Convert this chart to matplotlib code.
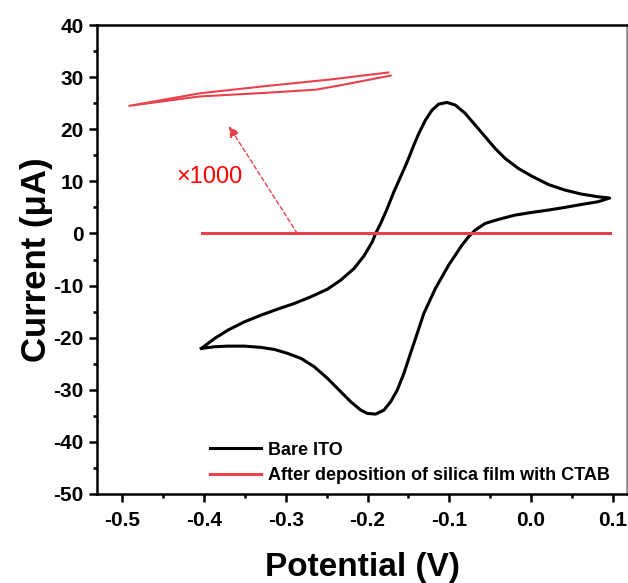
import matplotlib
matplotlib.use("Agg")
import matplotlib.pyplot as plt

# Bare ITO, cyclic voltammogram (forward scan then reverse scan)
bare_v = [-0.4033, -0.3870, -0.3708, -0.3505, -0.3302, -0.3098, -0.2895, -0.2692,
          -0.2489, -0.2327, -0.2164, -0.2042, -0.1941, -0.1900, -0.1839, -0.1758,
          -0.1677, -0.1595, -0.1514, -0.1433, -0.1372, -0.1291, -0.1210, -0.1129,
          -0.1027, -0.0925, -0.0804, -0.0682, -0.0560, -0.0438, -0.0316, -0.0154,
          0.0009, 0.0212, 0.0415, 0.0618, 0.0821, 0.0963,
          0.0821, 0.0618, 0.0415, 0.0212, 0.0009, -0.0194, -0.0397, -0.0560,
          -0.0682, -0.0763, -0.0844, -0.0925, -0.1007, -0.1088, -0.1169, -0.1311,
          -0.1392, -0.1474, -0.1555, -0.1636, -0.1717, -0.1799, -0.1900, -0.2002,
          -0.2083, -0.2205, -0.2327, -0.2489, -0.2652, -0.2814, -0.2977, -0.3139,
          -0.3302, -0.3505, -0.3708, -0.3870, -0.4033]
bare_i = [-22.06, -20.14, -18.55, -16.95, -15.67, -14.51, -13.43, -12.15,
          -10.68, -8.95, -6.71, -4.28, -1.59, 0.01, 1.93, 4.81,
          8.01, 10.89, 13.76, 16.96, 19.20, 21.76, 23.68, 24.83,
          25.15, 24.64, 23.04, 20.80, 18.56, 16.32, 14.40, 12.48,
          11.01, 9.41, 8.33, 7.56, 7.05, 6.80,
          6.09, 5.57, 5.00, 4.49, 4.04, 3.53, 2.70, 1.93,
          0.65, -0.63, -2.23, -4.15, -6.07, -8.31, -10.55, -15.35,
          -19.19, -23.02, -26.86, -30.06, -32.30, -33.90, -34.67, -34.54,
          -33.90, -32.30, -30.38, -27.82, -25.58, -23.98, -23.02, -22.26,
          -21.87, -21.62, -21.62, -21.74, -22.06]

# silica film with CTAB (nA level, flat on this scale)
film_v = [-0.403, -0.20, 0.097]
film_i = [0.0, 0.0, 0.0]

# same trace magnified x1000, drawn as an inset curve
mag_v = [-0.1746, -0.2428, -0.3240, -0.4053, -0.4915,
         -0.4053, -0.3240, -0.2631, -0.2347, -0.1716]
mag_i = [30.9, 29.6, 28.3, 26.9, 24.5,
         26.3, 27.0, 27.6, 28.4, 30.3]

xticks = [-0.5, -0.4, -0.3, -0.2, -0.1, 0.0, 0.1]
yticks = [-50, -40, -30, -20, -10, 0, 10, 20, 30, 40]

plt.rcParams["font.family"] = ["Liberation Sans", "DejaVu Sans"]
plt.rcParams["font.weight"] = "bold"
plt.rcParams["axes.unicode_minus"] = False

red = "#e8414b"

fig = plt.figure(figsize=(6.28, 5.83), dpi=100)
ax = fig.add_axes([0.1545, 0.1527, 0.8445, 0.8043])

ax.plot(bare_v, bare_i, color="black", lw=2.2, label="Bare ITO")
ax.plot(film_v, film_i, color=red, lw=2.2, label="After deposition of silica film with CTAB")
ax.plot(mag_v, mag_i, color=red, lw=1.5)

ax.annotate("", xy=(-0.3696, 20.6), xytext=(-0.2859, 0.0),
            arrowprops=dict(arrowstyle="-|>", linestyle=(0, (3, 2)), color=red,
                            lw=1.0, mutation_scale=16, shrinkA=0, shrinkB=0))
ax.text(-0.3935, 10.8, "×1000", color="#ff0000", fontsize=17, fontweight="normal",
        ha="center", va="center")

ax.set_xlim(-0.531, 0.118)
ax.set_ylim(-50, 40)
ax.set_xticks(xticks)
ax.set_xticklabels([f"{t:.1f}" for t in xticks])
ax.set_yticks(yticks)
ax.set_xticks([-0.45, -0.35, -0.25, -0.15, -0.05, 0.05], minor=True)
ax.set_yticks([-45, -35, -25, -15, -5, 5, 15, 25, 35], minor=True)
ax.tick_params(which="major", direction="out", length=6, width=1.8, labelsize=15)
ax.tick_params(axis="x", which="major", pad=6)
ax.tick_params(which="minor", direction="out", length=3, width=1.8)
for s in ax.spines.values():
    s.set_linewidth(1.8)
ax.spines["right"].set_color("#888888")

ax.set_xlabel("Potential (V)", fontsize=24, fontweight="bold", labelpad=16)
ax.set_ylabel("Current (μA)", fontsize=25, fontweight="bold", labelpad=0)

ax.legend(loc="lower left", bbox_to_anchor=(0.2, 0.006), frameon=False, fontsize=13,
          handlelength=2.8, handletextpad=0.4, labelspacing=0.45, borderaxespad=0)

fig.savefig("out.png", dpi=100)
